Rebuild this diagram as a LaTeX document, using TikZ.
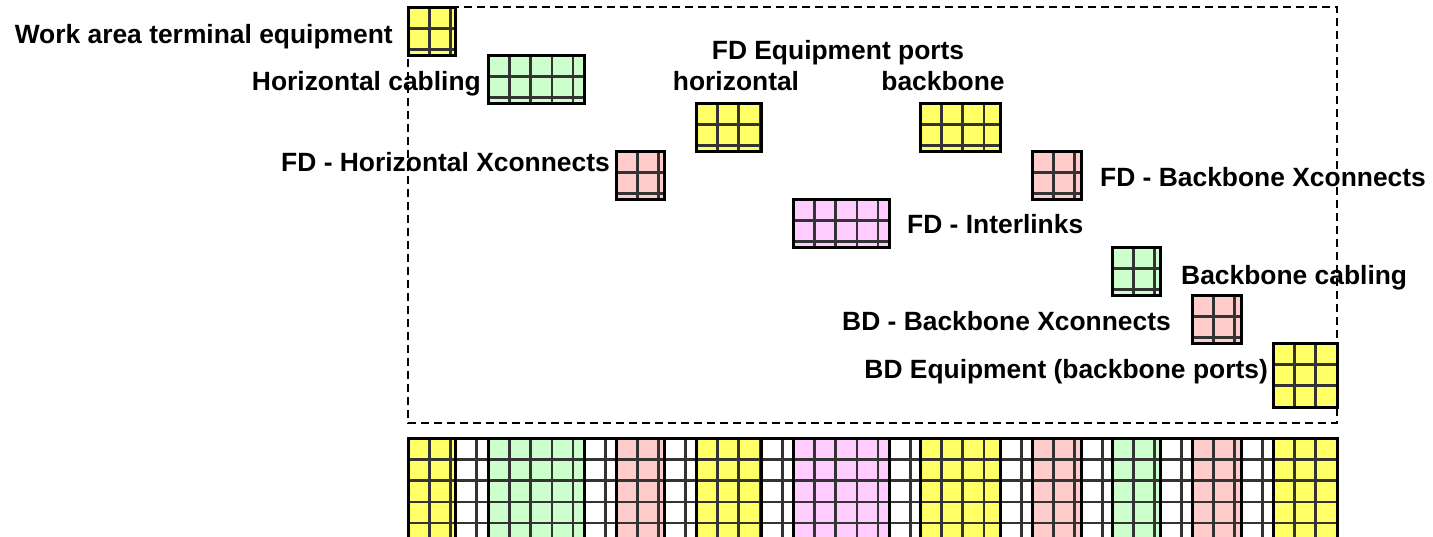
\documentclass[tikz,border=0pt]{standalone}
\usepackage{fontspec}
\setmainfont{Liberation Sans}
\definecolor{cyel}{HTML}{FFFF66}
\definecolor{cgrn}{HTML}{CCFFCC}
\definecolor{cpnk}{HTML}{FFCCCC}
\definecolor{cmag}{HTML}{FFCCFF}
\newcommand\gridblk[5]{%
  \fill[#5] (#1,#2) rectangle (#3,#4);
  \begin{scope}
    \clip (#1,#2) rectangle (#3,#4);
    \foreach \k in {1,...,5} {
      \draw[gline] ({#1+\k*21.3},#2) -- ({#1+\k*21.3},#4);
      \draw[gline] (#1,{#2+\k*21.3}) -- (#3,{#2+\k*21.3});
    }
  \end{scope}
  \draw[gborder] (#1,#2) rectangle (#3,#4);
}
\tikzset{
  gline/.style={draw=black!80, line width=2.4pt},
  gborder/.style={draw=black, line width=3pt},
  frame/.style={draw=black, line width=1.4pt, dash pattern=on 8pt off 5pt},
  lbl/.style={font=\bfseries\fontsize{26.4}{30}\selectfont, inner sep=0pt, text=black}
}
\begin{document}
\begin{tikzpicture}[x=1pt,y=-1pt]
\useasboundingbox (0,0) rectangle (1433,536);
\clip (0,0) rectangle (1433,536);
\fill[white] (0,0) rectangle (1433,536);
% dashed frame
\draw[frame] (408,7) rectangle (1337,423);
% staircase blocks
\gridblk{408}{7}{455}{55}{cyel}
\gridblk{488}{55}{584}{103}{cgrn}
\gridblk{616}{151}{664}{199}{cpnk}
\gridblk{696}{103}{761}{151}{cyel}
\gridblk{793}{199}{889}{247}{cmag}
\gridblk{920}{103}{1000}{151}{cyel}
\gridblk{1032}{151}{1081}{199}{cpnk}
\gridblk{1112}{247}{1160}{295}{cgrn}
\gridblk{1192}{295}{1241}{343}{cpnk}
\gridblk{1273}{343}{1337}{407}{cyel}
% bottom strip
\gridblk{408}{438}{455}{548}{cyel}
\gridblk{455}{438}{488}{548}{white}
\gridblk{488}{438}{584}{548}{cgrn}
\gridblk{584}{438}{616}{548}{white}
\gridblk{616}{438}{664}{548}{cpnk}
\gridblk{664}{438}{696}{548}{white}
\gridblk{696}{438}{761}{548}{cyel}
\gridblk{761}{438}{793}{548}{white}
\gridblk{793}{438}{889}{548}{cmag}
\gridblk{889}{438}{920}{548}{white}
\gridblk{920}{438}{1000}{548}{cyel}
\gridblk{1000}{438}{1032}{548}{white}
\gridblk{1032}{438}{1081}{548}{cpnk}
\gridblk{1081}{438}{1112}{548}{white}
\gridblk{1112}{438}{1160}{548}{cgrn}
\gridblk{1160}{438}{1192}{548}{white}
\gridblk{1192}{438}{1241}{548}{cpnk}
\gridblk{1241}{438}{1273}{548}{white}
\gridblk{1273}{438}{1337}{548}{cyel}
% labels
\node[lbl, anchor=mid east] (lwork) at (393,41) {Work area terminal equipment};
\node[lbl, anchor=mid east] (lhoriz) at (481,88) {Horizontal cabling};
\node[lbl, anchor=mid] (lfdports) at (838,57) {FD Equipment ports};
\node[lbl, anchor=mid] (lfdh) at (736,88) {horizontal};
\node[lbl, anchor=mid] (lfdb) at (943,88) {backbone};
\node[lbl, anchor=mid east] (lfdhx) at (610,169) {FD - Horizontal Xconnects};
\node[lbl, anchor=mid west] (lfdbx) at (1100,184) {FD - Backbone Xconnects};
\node[lbl, anchor=mid west] (lfdil) at (907,231) {FD - Interlinks};
\node[lbl, anchor=mid west] (lbbc) at (1181,282) {Backbone cabling};
\node[lbl, anchor=mid east] (lbdx) at (1171,328) {BD - Backbone Xconnects};
\node[lbl, anchor=mid east] (lbde) at (1268,376) {BD Equipment (backbone ports)};
\end{tikzpicture}
\end{document}
